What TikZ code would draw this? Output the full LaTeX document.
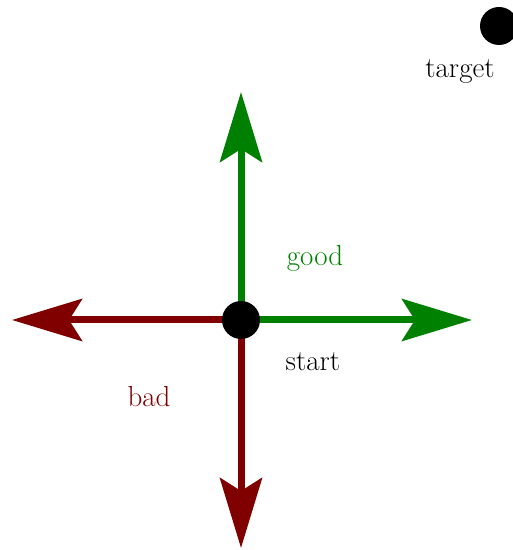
\documentclass[tikz,border=0pt]{standalone}
\usepackage{tikz}
\usetikzlibrary{arrows.meta}
\definecolor{goodgreen}{RGB}{0,128,0}
\definecolor{badred}{RGB}{128,0,0}

\begin{document}
\begin{tikzpicture}[
  dot/.style={circle, fill=black, inner sep=0pt, minimum size=0.76cm},
  lbl/.style={font=\fontsize{16.5}{20}\selectfont, inner sep=0pt},
  arr/.style={-{Stealth[length=1.4cm, width=0.84cm, inset=0.26cm]}, line width=0.14cm}
]
  \useasboundingbox (0,0) rectangle (10.24,11);

  \coordinate (o)     at (4.82,4.6);
  \coordinate (north) at (4.82,9.16);
  \coordinate (east)  at (9.44,4.6);
  \coordinate (west)  at (0.24,4.6);
  \coordinate (south) at (4.82,0.04);

  \draw[arr, goodgreen] (o) -- (north);
  \draw[arr, goodgreen] (o) -- (east);
  \draw[arr, badred]    (o) -- (west);
  \draw[arr, badred]    (o) -- (south);

  \node[dot] (start)  at (o) {};
  \node[dot] (target) at (9.98,10.48) {};

  \node[lbl, goodgreen] (goodlbl)   at ([shift={(1.48,1.24)}]start.center)   {good};
  \node[lbl]            (startlbl)  at ([shift={(1.44,-0.84)}]start.center)  {start};
  \node[lbl, badred]    (badlbl)    at ([shift={(-1.84,-1.54)}]start.center) {bad};
  \node[lbl]            (targetlbl) at ([shift={(-0.78,-0.92)}]target.center) {target};
\end{tikzpicture}
\end{document}
